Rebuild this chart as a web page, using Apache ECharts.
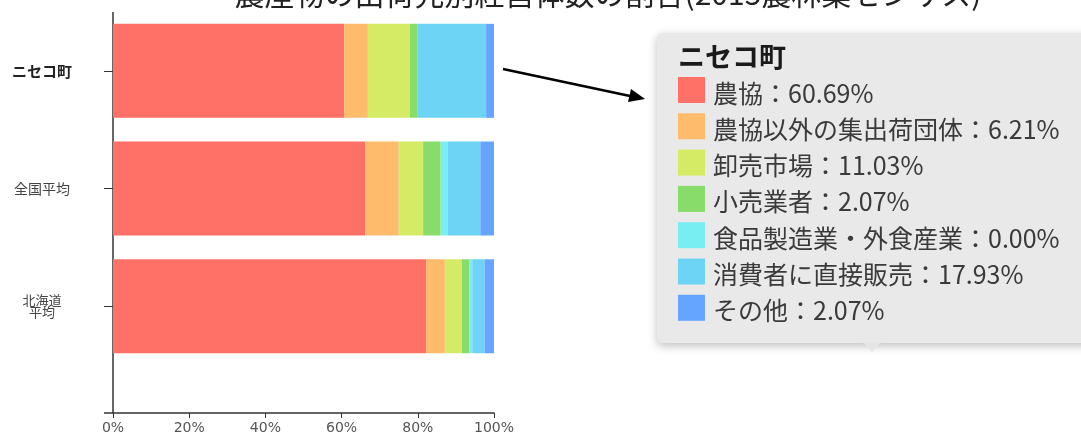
<!DOCTYPE html>
<html>
<head>
<meta charset="utf-8">
<title>農産物の出荷先別経営体数の割合</title>
<script src="https://cdn.jsdelivr.net/npm/echarts@6/dist/echarts.min.js"></script>
<style>
	html,body{margin:0;padding:0;background:#fff;}
	#main{width:1081px;height:432px;}
</style>
</head>
<body>
<div id="main"></div>
<script>
/* 
	数据
 */
var titleText = '農産物の出荷先別経営体数の割合(2015農林業センサス)';
// 地区
var areaList = ['ニセコ町', '全国平均', '北海道\n平均'];
// 出荷先
var seriesNames = ['農協', '農協以外の集出荷団体', '卸売市場', '小売業者', '食品製造業・外食産業', '消費者に直接販売', 'その他'];
// 各出荷先的比例(%)，按地区顺序
var nokyo      = [60.69, 66.2, 82.2];
var shukaDantai = [6.21, 8.8, 4.9];
var oroshiuri  = [11.03, 6.4, 4.4];
var kouri      = [2.07, 4.6, 2.1];
var shokuhin   = [0.00, 1.8, 0.7];
var chokubai   = [17.93, 8.6, 3.2];
var sonota     = [2.07, 3.6, 2.5];
var valueList = [nokyo, shukaDantai, oroshiuri, kouri, shokuhin, chokubai, sonota];
// x轴刻度
var xTicks = [0, 20, 40, 60, 80, 100];

var colorList = ['#ff7066', '#fdbb6b', '#d6eb65', '#88dd6a', '#78eef2', '#6dd4f5', '#66a5ff'];
var jpFont = '"Noto Sans CJK JP", sans-serif';

var myChart = echarts.init(document.getElementById('main'));

// 系列
var seriesList = [];
for (var i = 0; i < seriesNames.length; i++) {
	seriesList.push({
		name: seriesNames[i],
		type: 'bar',
		stack: 'total',
		barWidth: 94,
		itemStyle: {color: colorList[i]},
		emphasis: {disabled: true},
		data: valueList[i]
	});
}

/* 
	右侧的说明框（只显示第一个地区），用graphic画
 */
var tipTop = 33, tipLeft = 657, rowH = 36.3;
var tipChildren = [
	{
		type: 'rect',
		shape: {x: tipLeft, y: tipTop, width: 450, height: 310, r: 5},
		style: {fill: '#e9e9e9', shadowBlur: 10, shadowColor: 'rgba(0,0,0,0.25)', shadowOffsetY: 3}
	},
	{
		type: 'polygon',
		shape: {points: [[863, 342], [881, 342], [872, 352]]},
		style: {fill: '#e6e6e6'}
	},
	{
		type: 'text',
		style: {
			x: 678, y: 57, text: areaList[0], fill: '#1a1a1a',
			font: 'bold 27px ' + jpFont, verticalAlign: 'middle'
		}
	}
];
for (var k = 0; k < seriesNames.length; k++) {
	tipChildren.push({
		type: 'rect',
		shape: {x: 678, y: 77 + rowH * k, width: 27, height: 26},
		style: {fill: colorList[k]}
	});
	tipChildren.push({
		type: 'text',
		style: {
			x: 713, y: 93 + rowH * k,
			text: seriesNames[k] + '：' + valueList[k][0].toFixed(2) + '%',
			fill: '#3a3a3a', font: '25px ' + jpFont, verticalAlign: 'middle'
		}
	});
}

var option = {
	animation: false,
	title: {
		text: titleText,
		left: 603,
		textAlign: 'center',
		top: -26,
		textStyle: {fontFamily: jpFont, fontSize: 30, fontWeight: 'normal', color: '#222'}
	},
	grid: {left: 113, right: 587, top: 12, height: 353, outerBoundsMode: 'none', containLabel: false},
	xAxis: {
		type: 'value',
		min: xTicks[0],
		max: xTicks[xTicks.length - 1],
		interval: xTicks[1] - xTicks[0],
		offset: 48,
		axisLine: {show: true, lineStyle: {color: '#333', width: 1.5}},
		axisTick: {show: true, length: 5, lineStyle: {color: '#333'}},
		splitLine: {show: false},
		axisLabel: {formatter: '{value}%', fontFamily: 'DejaVu Sans', fontSize: 14, color: '#555', margin: 8}
	},
	yAxis: {
		type: 'category',
		inverse: true,
		data: [
			{value: areaList[0], textStyle: {align: 'center', fontWeight: 'bold', fontSize: 15, color: '#222'}},
			{value: areaList[1], textStyle: {align: 'center', fontSize: 14, color: '#444'}},
			{value: areaList[2], textStyle: {align: 'center', fontSize: 13, lineHeight: 12, color: '#444'}}
		],
		axisLine: {show: false},
		axisTick: {show: true, alignWithLabel: true, length: 9, lineStyle: {color: '#333'}},
		axisLabel: {align: 'center', margin: 71, fontFamily: jpFont}
	},
	series: seriesList,
	graphic: [
		// y轴线（延长到x轴）
		{type: 'line', shape: {x1: 113, y1: 12, x2: 113, y2: 413}, style: {stroke: '#333', lineWidth: 1.5}},
		{type: 'line', shape: {x1: 104, y1: 413, x2: 113, y2: 413}, style: {stroke: '#333', lineWidth: 1.5}},
		// 箭头
		{type: 'line', shape: {x1: 503, y1: 69, x2: 630, y2: 96}, style: {stroke: '#000', lineWidth: 2.5}},
		{type: 'polygon', shape: {points: [[645, 99], [628, 102], [631, 89]]}, style: {fill: '#000'}},
		{type: 'group', children: tipChildren}
	]
};
myChart.setOption(option);
</script>
</body>
</html>
